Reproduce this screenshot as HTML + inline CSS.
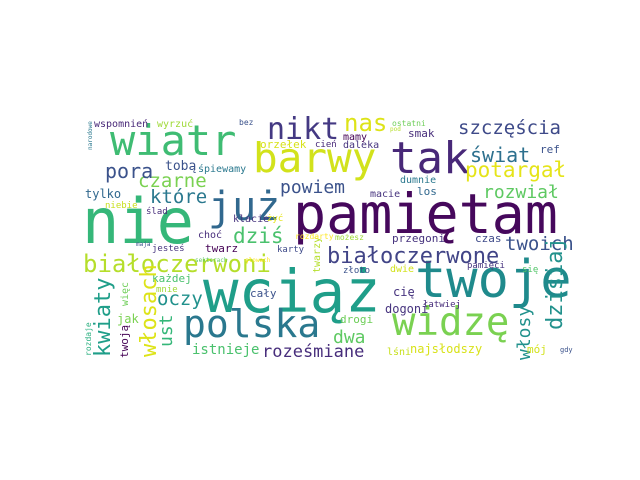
<!DOCTYPE html>
<html><head><meta charset="utf-8"><style>
html,body{margin:0;padding:0;background:#fff}
svg{display:block}
text{font-family:"DejaVu Sans Mono","Liberation Mono",monospace}
</style></head><body>
<svg id="wc" width="640" height="480" viewBox="0 0 640 480"></svg>
<script>
// word, font size (≈ frequency weight), colour, left x, baseline y, rotated
const words = ["nie","pamiętam","wciąż","twoje","widzę","polska","tak","barwy","wiatr","już","nikt","nas","szczęścia","świat","potargał","rozwiał","twoich","białoczerwone","białoczerwoni","dziś","powiem","czarne","które","pora","tobą","śpiewamy","wspomnień","wyrzuć","bez","orzełek","tylko","niebie","ślad","klacie","żyć","choć","jesteś","twarz","karty","twarzy","każdej","mnie","kwiaty","włosach","więc","oczy","ust","jak","twoją","rozdaje","cały","istnieje","roześmiane","dwa","drogi","dogoni","cię","dwie","złoto","przegoni","czas","pamięci","się","włosy","dzisiaj","najsłodszy","lśni","mój","łatwiej","gdy","macie","los","dumnie","smak","mamy","daleka","ostatni","ref","cień","pod","maja","narodowe","rozdarty","możesz","sektorach","głowach"];
const sizes = [62,55,59,52,39,38,44,41,42,40,30,24,19,20,21,18,19,22,24,21,18,19,19,20,13,10,10,10,8,11,12,9,9,10,9,10,9,11,9,10,11,9,22,22,10,19,18,12,11,8,11,14,17,18,11,12,12,10,9,11,11,9,9,18,22,12,10,11,9,7,10,11,10,11,10,10,8,11,9,6,6,6,8,8,6,6];
const colors = ["#35b779","#46085c","#1f9e89","#1f8a8c","#7ad151","#2a788e","#482878","#d2e21b","#3fbc73","#31688e","#443983","#dde318","#3e4a89","#2d708e","#e5e419","#5ec962","#3b528b","#414487","#b5de2b","#4ac16d","#3b528b","#7ad151","#2a788e","#3b528b","#3b528b","#2a788e","#482878","#a0da39","#3b528b","#d8e219","#31688e","#c8e020","#472d7b","#46337e","#e5e419","#472d7b","#46337e","#440154","#3e4a89","#b5de2b","#4ac16d","#a0da39","#1f9e89","#dde318","#6ece58","#21918c","#35b779","#7ad151","#440154","#29af7f","#3b528b","#4ac16d","#472d7b","#5ec962","#6ece58","#46337e","#46337e","#d2e21b","#3b528b","#46337e","#3e4a89","#46337e","#52c569","#21918c","#21918c","#d8e219","#c8e020","#d2e21b","#472d7b","#3b528b","#46337e","#31688e","#2a788e","#472d7b","#440154","#46337e","#6ece58","#3b528b","#482878","#b5de2b","#3b528b","#2a788e","#fde725","#a0da39","#5ec962","#fde725"];
const px = [82,293,203,415,392,183,390,253,110,208,267,344,458,470,465,483,505,327,83,233,280,138,150,105,165,198,94,157,239,260,85,105,146,233,267,198,152,205,277,320,152,156,110,156,128,157,172,117,128,91,250,192,262,333,340,385,393,390,343,392,475,467,522,530,562,410,387,527,423,560,370,417,400,408,343,343,392,540,315,390,136,92,295,335,195,245];
const py = [243,233,312,297,335,337,173,172,155,220,139,131,134,162,177,198,250,263,272,243,193,187,203,178,170,172,127,127,125,148,198,208,214,222,221,238,251,252,252,273,282,292,357,357,306,305,347,323,358,356,297,354,357,343,323,313,296,272,273,242,242,268,272,360,330,353,355,353,307,352,197,195,183,137,140,148,126,153,147,131,246,150,239,240,262,262];
const rot = [0,0,0,0,0,0,0,0,0,0,0,0,0,0,0,0,0,0,0,0,0,0,0,0,0,0,0,0,0,0,0,0,0,0,0,0,0,0,0,1,0,0,1,1,1,0,1,0,1,1,0,0,0,0,0,0,0,0,0,0,0,0,0,1,1,0,0,0,0,0,0,0,0,0,0,0,0,0,0,0,0,1,0,0,0,0];
const svg = document.getElementById('wc');
const NS = 'http://www.w3.org/2000/svg';
for (let i = 0; i < words.length; i++) {
  const t = document.createElementNS(NS, 'text');
  
  
  t.setAttribute('font-size', sizes[i]);
  t.setAttribute('fill', colors[i]);
  if (rot[i]) {
    t.setAttribute('transform', 'translate(' + px[i] + ',' + py[i] + ') rotate(-90)');
    t.setAttribute('x', 0); t.setAttribute('y', 0);
  } else {
    t.setAttribute('x', px[i]); t.setAttribute('y', py[i]);
  }
  t.textContent = words[i];
  svg.appendChild(t);
}
</script>
</body></html>
